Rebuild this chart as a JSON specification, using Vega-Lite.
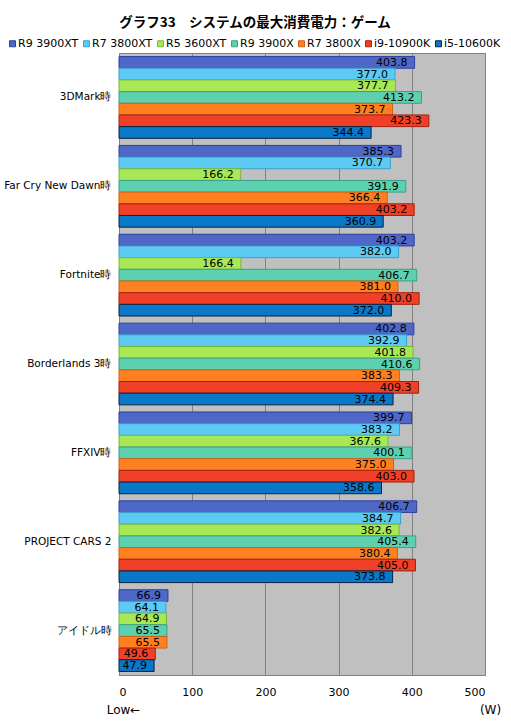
{
  "$schema": "https://vega.github.io/schema/vega-lite/v6.json",
  "autosize": "none",
  "width": 366,
  "height": 622,
  "padding": {"left": 119, "top": 53, "right": 26, "bottom": 46},
  "background": "#ffffff",
  "title": {
    "text": "グラフ33　システムの最大消費電力：ゲーム",
    "font": "Noto Sans CJK JP",
    "fontSize": 13.5,
    "fontWeight": "bold",
    "color": "#000000",
    "anchor": "middle",
    "dx": -47,
    "offset": 9
  },
  "data": {
    "values": [
      {"test": "3DMark時", "cpu": "R9 3900XT", "w": 403.8},
      {"test": "3DMark時", "cpu": "R7 3800XT", "w": 377.0},
      {"test": "3DMark時", "cpu": "R5 3600XT", "w": 377.7},
      {"test": "3DMark時", "cpu": "R9 3900X", "w": 413.2},
      {"test": "3DMark時", "cpu": "R7 3800X", "w": 373.7},
      {"test": "3DMark時", "cpu": "i9-10900K", "w": 423.3},
      {"test": "3DMark時", "cpu": "i5-10600K", "w": 344.4},
      {"test": "Far Cry New Dawn時", "cpu": "R9 3900XT", "w": 385.3},
      {"test": "Far Cry New Dawn時", "cpu": "R7 3800XT", "w": 370.7},
      {"test": "Far Cry New Dawn時", "cpu": "R5 3600XT", "w": 166.2},
      {"test": "Far Cry New Dawn時", "cpu": "R9 3900X", "w": 391.9},
      {"test": "Far Cry New Dawn時", "cpu": "R7 3800X", "w": 366.4},
      {"test": "Far Cry New Dawn時", "cpu": "i9-10900K", "w": 403.2},
      {"test": "Far Cry New Dawn時", "cpu": "i5-10600K", "w": 360.9},
      {"test": "Fortnite時", "cpu": "R9 3900XT", "w": 403.2},
      {"test": "Fortnite時", "cpu": "R7 3800XT", "w": 382.0},
      {"test": "Fortnite時", "cpu": "R5 3600XT", "w": 166.4},
      {"test": "Fortnite時", "cpu": "R9 3900X", "w": 406.7},
      {"test": "Fortnite時", "cpu": "R7 3800X", "w": 381.0},
      {"test": "Fortnite時", "cpu": "i9-10900K", "w": 410.0},
      {"test": "Fortnite時", "cpu": "i5-10600K", "w": 372.0},
      {"test": "Borderlands 3時", "cpu": "R9 3900XT", "w": 402.8},
      {"test": "Borderlands 3時", "cpu": "R7 3800XT", "w": 392.9},
      {"test": "Borderlands 3時", "cpu": "R5 3600XT", "w": 401.8},
      {"test": "Borderlands 3時", "cpu": "R9 3900X", "w": 410.6},
      {"test": "Borderlands 3時", "cpu": "R7 3800X", "w": 383.3},
      {"test": "Borderlands 3時", "cpu": "i9-10900K", "w": 409.3},
      {"test": "Borderlands 3時", "cpu": "i5-10600K", "w": 374.4},
      {"test": "FFXIV時", "cpu": "R9 3900XT", "w": 399.7},
      {"test": "FFXIV時", "cpu": "R7 3800XT", "w": 383.2},
      {"test": "FFXIV時", "cpu": "R5 3600XT", "w": 367.6},
      {"test": "FFXIV時", "cpu": "R9 3900X", "w": 400.1},
      {"test": "FFXIV時", "cpu": "R7 3800X", "w": 375.0},
      {"test": "FFXIV時", "cpu": "i9-10900K", "w": 403.0},
      {"test": "FFXIV時", "cpu": "i5-10600K", "w": 358.6},
      {"test": "PROJECT CARS 2", "cpu": "R9 3900XT", "w": 406.7},
      {"test": "PROJECT CARS 2", "cpu": "R7 3800XT", "w": 384.7},
      {"test": "PROJECT CARS 2", "cpu": "R5 3600XT", "w": 382.6},
      {"test": "PROJECT CARS 2", "cpu": "R9 3900X", "w": 405.4},
      {"test": "PROJECT CARS 2", "cpu": "R7 3800X", "w": 380.4},
      {"test": "PROJECT CARS 2", "cpu": "i9-10900K", "w": 405.0},
      {"test": "PROJECT CARS 2", "cpu": "i5-10600K", "w": 373.8},
      {"test": "アイドル時", "cpu": "R9 3900XT", "w": 66.9},
      {"test": "アイドル時", "cpu": "R7 3800XT", "w": 64.1},
      {"test": "アイドル時", "cpu": "R5 3600XT", "w": 64.9},
      {"test": "アイドル時", "cpu": "R9 3900X", "w": 65.5},
      {"test": "アイドル時", "cpu": "R7 3800X", "w": 65.5},
      {"test": "アイドル時", "cpu": "i9-10900K", "w": 49.6},
      {"test": "アイドル時", "cpu": "i5-10600K", "w": 47.9}
    ]
  },
  "encoding": {
    "y": {
      "field": "test",
      "type": "nominal",
      "sort": null,
      "scale": {"paddingInner": 0.08, "paddingOuter": 0.04},
      "axis": {
        "title": "Low←",
        "titleAngle": 0,
        "titleX": 4,
        "titleY": 656,
        "titleAlign": "center",
        "titleBaseline": "middle",
        "titleFont": "DejaVu Sans",
        "titleFontSize": 12,
        "titleFontWeight": "normal",
        "titleColor": "#000000",
        "labelFont": "DejaVu Sans",
        "labelFontSize": 10.5,
        "labelColor": "#000000",
        "labelPadding": 8,
        "ticks": false,
        "tickSize": 0,
        "domain": false
      }
    },
    "yOffset": {
      "field": "cpu",
      "type": "nominal",
      "sort": ["R9 3900XT", "R7 3800XT", "R5 3600XT", "R9 3900X", "R7 3800X", "i9-10900K", "i5-10600K"],
      "scale": {"paddingInner": 0, "paddingOuter": 0}
    },
    "x": {
      "field": "w",
      "type": "quantitative",
      "scale": {"domain": [0, 500], "nice": false},
      "axis": {
        "values": [0, 100, 200, 300, 400, 500],
        "title": "(W)",
        "titleX": 371,
        "titleY": 34,
        "titleAlign": "center",
        "titleBaseline": "middle",
        "titleFont": "DejaVu Sans",
        "titleFontSize": 12,
        "titleFontWeight": "normal",
        "titleColor": "#000000",
        "labelFont": "DejaVu Sans",
        "labelFontSize": 11,
        "labelColor": "#000000",
        "labelPadding": 11,
        "ticks": false,
        "tickSize": 0,
        "domain": false,
        "grid": true,
        "gridColor": "#808080",
        "gridWidth": 1,
        "gridOpacity": 1
      }
    }
  },
  "layer": [
    {
      "mark": {"type": "bar", "strokeWidth": 1},
      "encoding": {
        "fill": {
          "field": "cpu",
          "type": "nominal",
          "sort": ["R9 3900XT", "R7 3800XT", "R5 3600XT", "R9 3900X", "R7 3800X", "i9-10900K", "i5-10600K"],
          "scale": {"range": ["#4f68c8", "#5ccaf2", "#a8e856", "#5dd0b0", "#ff8020", "#f04028", "#0a78c8"]},
          "legend": {
            "title": null,
            "orient": "none",
            "legendX": -112,
            "legendY": -15,
            "direction": "horizontal",
            "columns": 7,
            "columnPadding": 2,
            "padding": 0,
            "labelOffset": 0,
            "symbolType": "square",
            "symbolSize": 36,
            "symbolStrokeWidth": 1,
            "labelFont": "DejaVu Sans",
            "labelFontSize": 11,
            "labelFontWeight": "normal",
            "labelColor": "#000000",
            "encode": {
              "symbols": {
                "update": {
                  "stroke": {"scale": "stroke", "field": "value"},
                  "strokeWidth": {"value": 1}
                }
              }
            }
          }
        },
        "stroke": {
          "field": "cpu",
          "type": "nominal",
          "sort": ["R9 3900XT", "R7 3800XT", "R5 3600XT", "R9 3900X", "R7 3800X", "i9-10900K", "i5-10600K"],
          "scale": {"range": ["#2e3f9e", "#3aa0d0", "#78b838", "#38a088", "#d06010", "#a02010", "#0a2040"]},
          "legend": null
        }
      }
    },
    {
      "mark": {
        "type": "text",
        "align": "right",
        "baseline": "middle",
        "dx": -7,
        "dy": 0.5,
        "font": "DejaVu Sans",
        "fontSize": 11,
        "color": "#000000"
      },
      "encoding": {
        "text": {"field": "w", "type": "quantitative", "format": ".1f"}
      }
    }
  ],
  "config": {
    "view": {"fill": "#c0c0c0", "stroke": "#808080", "strokeWidth": 1}
  }
}
